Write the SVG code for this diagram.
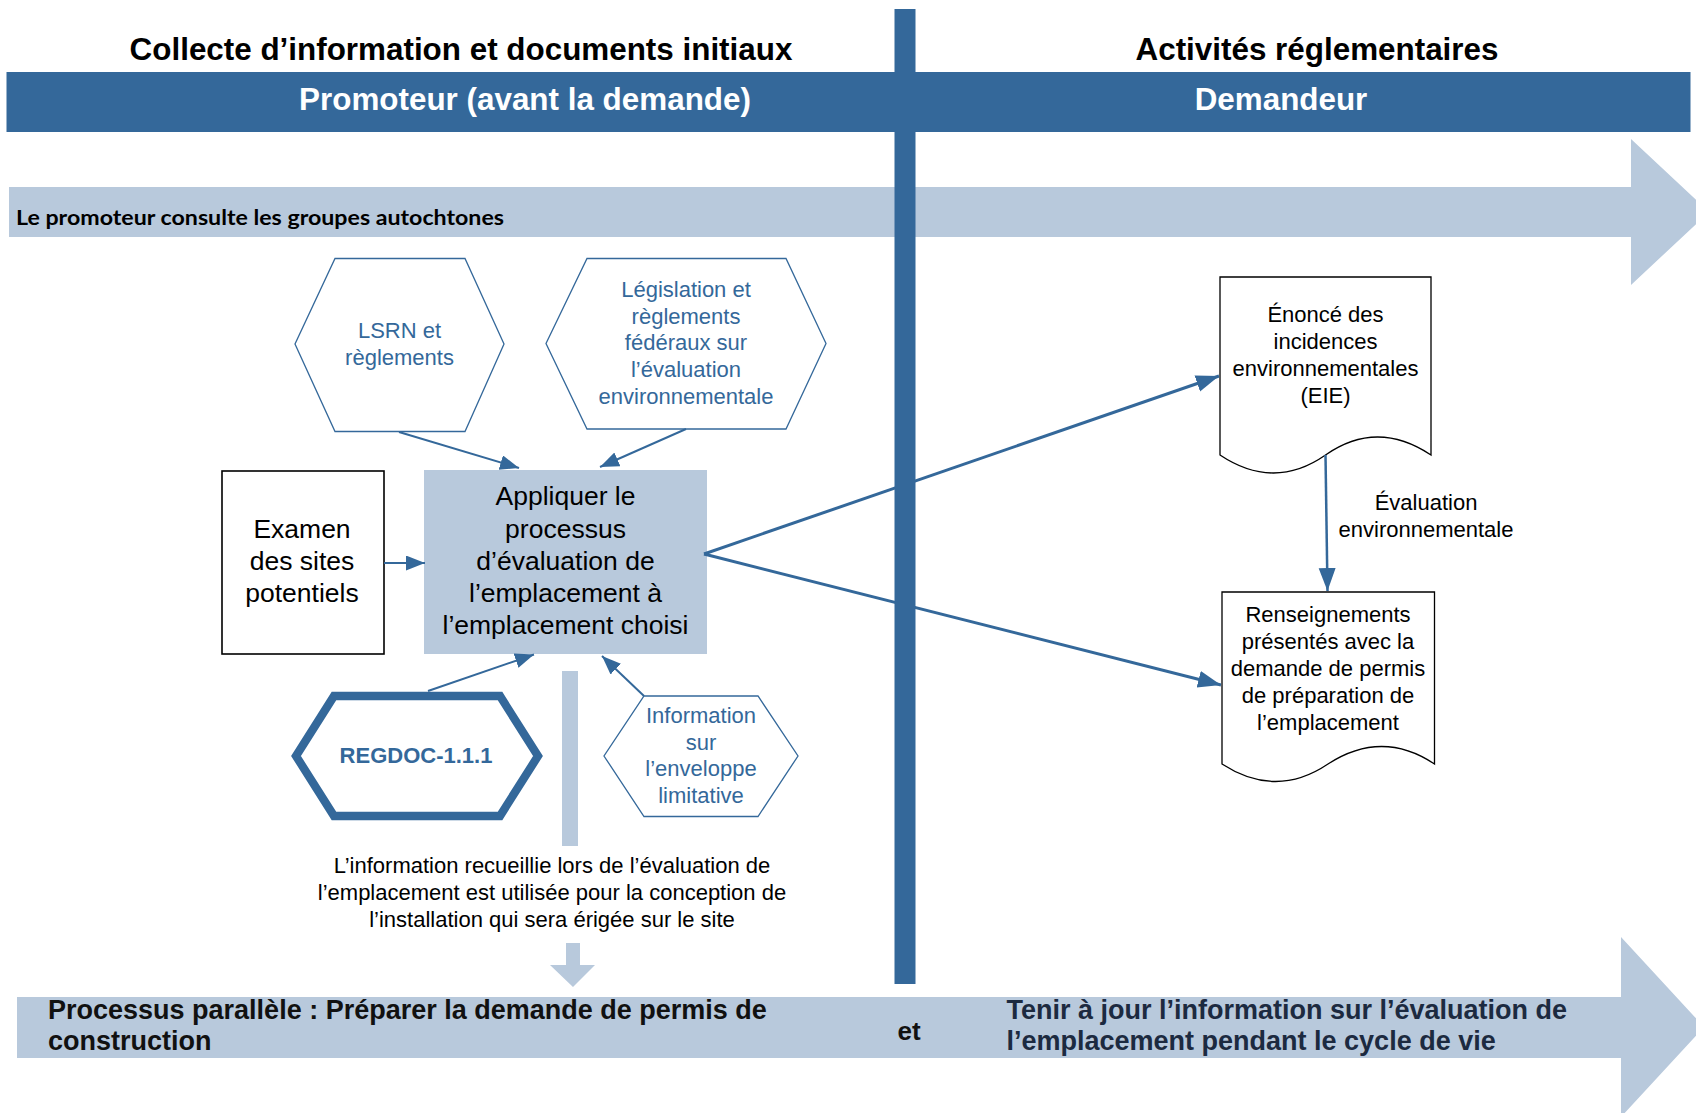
<svg xmlns="http://www.w3.org/2000/svg" width="1696" height="1113" viewBox="0 0 1696 1113">
<style>
.t{font-family:"Liberation Sans",Arial,sans-serif;}
.h{font-weight:bold;font-size:31.4px;}
.bl{fill:#34689A;font-size:22px;}
.bk{fill:#000;font-size:22px;}
.big{fill:#000;font-size:26.5px;}
.bb{font-weight:bold;font-size:27px;}
.hex{fill:#fff;stroke:#34689A;stroke-width:1.3;}
.doc{fill:#fff;stroke:#000;stroke-width:1.3;}
.c{fill:none;stroke:#34689A;}
</style>
<defs>
<marker id="a" markerUnits="userSpaceOnUse" markerWidth="20" markerHeight="16" refX="19" refY="7.5" orient="auto"><path d="M0,0 L19,7.5 L0,15 Z" fill="#34689A"/></marker>
<marker id="b" markerUnits="userSpaceOnUse" markerWidth="24" markerHeight="18" refX="23" refY="8.5" orient="auto"><path d="M0,0 L23,8.5 L0,17 Z" fill="#34689A"/></marker>
</defs>
<rect width="1696" height="1113" fill="#fff"/>
<g id="titles" class="t">
<text class="h" x="461" y="60" text-anchor="middle" fill="#000">Collecte d’information et documents initiaux</text>
<text class="h" x="1317" y="60" text-anchor="middle" fill="#000">Activités réglementaires</text>
</g>
<g id="header">
<rect x="6.5" y="72" width="1684" height="60" fill="#34689A"/>
<text class="t h" x="525" y="110" text-anchor="middle" fill="#fff">Promoteur (avant la demande)</text>
<text class="t h" x="1281" y="110" text-anchor="middle" fill="#fff">Demandeur</text>
</g>
<g id="consult">
<polygon points="9,187 1631,187 1631,139 1709,212 1631,285 1631,237 9,237" fill="#B8C9DC"/>
<text x="16" y="225" font-family="Lato,'Open Sans',sans-serif" font-weight="bold" font-size="21" fill="#000" textLength="488" lengthAdjust="spacingAndGlyphs">Le promoteur consulte les groupes autochtones</text>
</g>
<g id="bottomband">
<polygon points="17,997 1621,997 1621,937 1704,1027 1621,1117 1621,1058 17,1058" fill="#B8C9DC"/>
<text class="t bb" x="48" y="1019" fill="#111">Processus parallèle : Préparer la demande de permis de</text>
<text class="t bb" x="48" y="1050" fill="#111">construction</text>
<text class="t" x="897.5" y="1040" font-weight="bold" font-size="26" fill="#111">et</text>
<text class="t bb" x="1006.5" y="1019" fill="#1c2a40">Tenir à jour l’information sur l’évaluation de</text>
<text class="t bb" x="1006.5" y="1050" fill="#1c2a40">l’emplacement pendant le cycle de vie</text>
</g>
<g id="lsrn">
<polygon class="hex" points="335,258.5 465,258.5 504,344 465,431.5 335,431.5 295,344"/>
<text class="t bl" text-anchor="middle"><tspan x="399.5" y="338">LSRN et</tspan><tspan x="399.5" y="365">règlements</tspan></text>
</g>
<g id="legislation">
<polygon class="hex" points="587,258.5 786,258.5 826,343.5 786,429 587,429 546,343.5"/>
<text class="t bl" text-anchor="middle"><tspan x="686" y="297">Législation et</tspan><tspan x="686" y="323.5">règlements</tspan><tspan x="686" y="350">fédéraux sur</tspan><tspan x="686" y="377">l’évaluation</tspan><tspan x="686" y="403.5">environnementale</tspan></text>
</g>
<g id="examen">
<rect x="222" y="471" width="162" height="183" fill="#fff" stroke="#000" stroke-width="1.6"/>
<text class="t big" text-anchor="middle"><tspan x="302" y="538">Examen</tspan><tspan x="302" y="570">des sites</tspan><tspan x="302" y="602">potentiels</tspan></text>
</g>
<g id="appliquer">
<rect x="424" y="470" width="283" height="184" fill="#B8C9DC"/>
<text class="t big" text-anchor="middle"><tspan x="565.5" y="505">Appliquer le</tspan><tspan x="565.5" y="538">processus</tspan><tspan x="565.5" y="570">d’évaluation de</tspan><tspan x="565.5" y="602">l’emplacement à</tspan><tspan x="565.5" y="634">l’emplacement choisi</tspan></text>
</g>
<g id="regdoc">
<polygon points="334,696 500,696 538,756 500,816 334,816 296,756" fill="#fff" stroke="#34689A" stroke-width="8.3" stroke-linejoin="miter"/>
<text class="t" x="416" y="763" text-anchor="middle" font-weight="bold" font-size="22" fill="#34689A">REGDOC-1.1.1</text>
</g>
<g id="enveloppe">
<polygon class="hex" points="644,696 758,696 798,756 758,816.5 644,816.5 604,756"/>
<text class="t bl" text-anchor="middle"><tspan x="701" y="723">Information</tspan><tspan x="701" y="749.5">sur</tspan><tspan x="701" y="776">l’enveloppe</tspan><tspan x="701" y="803">limitative</tspan></text>
</g>
<g id="info-text">
<rect x="562" y="671" width="16" height="175" fill="#B8C9DC"/>
<text class="t bk" text-anchor="middle"><tspan x="552" y="873">L’information recueillie lors de l’évaluation de</tspan><tspan x="552" y="900">l’emplacement est utilisée pour la conception de</tspan><tspan x="552" y="927">l’installation qui sera érigée sur le site</tspan></text>
<polygon points="566,943 580,943 580,965 595,965 573,987 550,965 566,965" fill="#B8C9DC"/>
</g>
<g id="eie">
<path class="doc" d="M1220,277 H1431 V455 Q1377,419 1325.5,455 Q1274,491 1220,455 Z"/>
<text class="t bk" text-anchor="middle"><tspan x="1325.5" y="321.5">Énoncé des</tspan><tspan x="1325.5" y="348.5">incidences</tspan><tspan x="1325.5" y="375.5">environnementales</tspan><tspan x="1325.5" y="402.5">(EIE)</tspan></text>
</g>
<g id="renseignements">
<path class="doc" d="M1222,592 H1434.5 V764 Q1382,729 1328,764 Q1276,799 1222,764 Z"/>
<text class="t bk" text-anchor="middle"><tspan x="1328" y="621.5">Renseignements</tspan><tspan x="1328" y="648.5">présentés avec la</tspan><tspan x="1328" y="675.5">demande de permis</tspan><tspan x="1328" y="702.5">de préparation de</tspan><tspan x="1328" y="729.5">l’emplacement</tspan></text>
</g>
<g id="connectors">
<line class="c" stroke-width="2" x1="399" y1="432" x2="519" y2="468" marker-end="url(#a)"/>
<line class="c" stroke-width="2" x1="686" y1="429" x2="600" y2="467" marker-end="url(#a)"/>
<line class="c" stroke-width="2" x1="384" y1="563" x2="425" y2="563" marker-end="url(#a)"/>
<line class="c" stroke-width="2" x1="428" y1="691" x2="534" y2="654.5" marker-end="url(#a)"/>
<line class="c" stroke-width="2" x1="644" y1="696" x2="602" y2="656" marker-end="url(#a)"/>
<line class="c" stroke-width="3" x1="704" y1="554" x2="1219" y2="376" marker-end="url(#b)"/>
<line class="c" stroke-width="3" x1="704" y1="554" x2="1221" y2="685" marker-end="url(#b)"/>
<line class="c" stroke-width="2.5" x1="1325.5" y1="455" x2="1327.5" y2="591" marker-end="url(#b)"/>
<text class="t bk" text-anchor="middle"><tspan x="1426" y="510">Évaluation</tspan><tspan x="1426" y="536.5">environnementale</tspan></text>
</g>
<g id="divider">
<rect x="894.5" y="9" width="21" height="975" fill="#34689A"/>
</g>
</svg>
